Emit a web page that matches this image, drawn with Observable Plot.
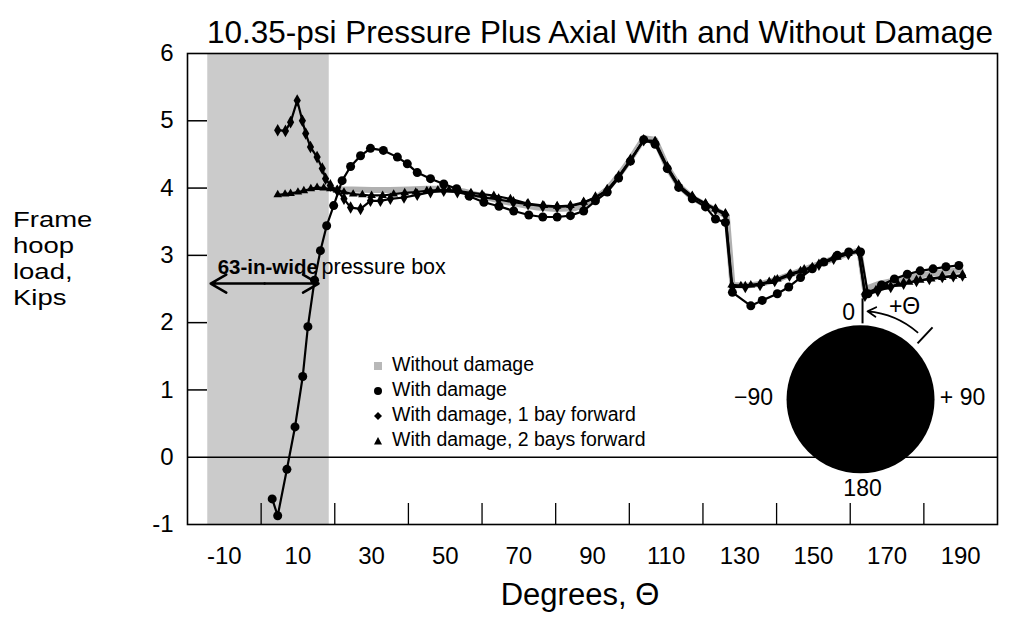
<!DOCTYPE html>
<html><head><meta charset="utf-8">
<script src="https://cdn.jsdelivr.net/npm/d3@7"></script>
<script src="https://cdn.jsdelivr.net/npm/@observablehq/plot@0.6"></script>
<style>
body{margin:0;background:#fff;font-family:"Liberation Sans",Arial,Helvetica,sans-serif;}
#wrap{position:relative;width:1022px;height:617px;overflow:hidden;background:#fff;}
.abs{position:absolute;color:#000;white-space:nowrap;}
.leg{position:absolute;left:370px;font-size:19.5px;line-height:25px;}
.sym{display:inline-block;width:16px;text-align:center;margin-right:6px;}
.yl{position:absolute;left:13px;font-size:22.5px;line-height:26px;height:26px;transform:scaleX(1.22);transform-origin:0 50%;}
</style></head><body>
<div id="wrap">
<div id="chart" class="abs" style="left:0;top:0"></div>
<div class="abs" style="left:180px;width:840px;top:12px;font-size:31.5px;line-height:40px;text-align:center;">10.35-psi Pressure Plus Axial With and Without Damage</div>
<div class="yl" style="top:207px">Frame</div>
<div class="yl" style="top:233px">hoop</div>
<div class="yl" style="top:259px">load,</div>
<div class="yl" style="top:285px">Kips</div>
<div class="abs" style="left:430px;width:300px;top:578px;font-size:31px;line-height:34px;text-align:center;">Degrees, Θ</div>
<div id="legend"></div>
</div>
<script>
// ---- data (degrees, kips) ----
const withDamage = [[3.0,-0.62],[4.5,-0.87],[7.0,-0.18],[9.2,0.45],[11.3,1.20],[12.7,1.94],[14.5,2.63],[16.1,3.07],[17.8,3.44],[19.7,3.74],[22.0,4.11],[24.3,4.32],[27.0,4.48],[29.7,4.59],[33.2,4.56],[37.0,4.46],[39.7,4.36],[42.4,4.23],[46.0,4.14],[49.6,4.06],[53.1,3.99],[56.5,3.88],[60.5,3.79],[64.6,3.73],[68.6,3.66],[72.7,3.60],[76.5,3.57],[80.4,3.57],[84.0,3.59],[87.6,3.66],[90.8,3.81],[94.0,3.94],[97.1,4.15],[100.3,4.40],[103.9,4.72],[107.0,4.65],[110.3,4.29],[113.4,4.01],[117.1,3.84],[120.7,3.72],[123.4,3.54],[126.1,3.49],[128.0,2.45],[133.0,2.25],[136.1,2.33],[140.2,2.43],[143.3,2.53],[146.5,2.67],[149.7,2.80],[152.8,2.90],[156.5,3.00],[159.6,3.05],[162.8,3.05],[164.8,2.43],[168.5,2.56],[172.0,2.65],[175.5,2.72],[179.0,2.77],[182.5,2.80],[186.0,2.83],[189.5,2.85]];
const oneBayForward = [[4.5,4.86],[6.6,4.85],[8.0,4.98],[9.8,5.30],[11.2,5.00],[12.1,4.81],[13.4,4.61],[15.2,4.46],[16.6,4.29],[17.5,4.14],[18.8,4.04],[20.7,3.96],[22.5,3.84],[24.3,3.71],[27.0,3.69],[29.7,3.81],[32.4,3.81],[35.1,3.84],[38.8,3.86],[42.4,3.90],[46.0,3.94],[49.6,3.96],[53.3,3.94],[56.9,3.90],[60.5,3.86],[64.5,3.83],[68.5,3.79],[72.5,3.76],[76.5,3.73],[80.4,3.72],[84.0,3.73],[87.6,3.78],[90.8,3.86],[94.0,3.97],[97.1,4.17],[100.3,4.42],[103.9,4.71],[107.0,4.68],[110.3,4.31],[113.4,4.04],[117.1,3.87],[120.7,3.76],[123.4,3.68],[126.1,3.60],[128.0,2.53],[131.5,2.53],[135.5,2.56],[139.5,2.62],[143.5,2.70],[147.5,2.78],[151.5,2.86],[155.5,2.95],[159.5,3.02],[162.3,3.06],[164.0,2.40],[167.5,2.47],[171.0,2.53],[174.5,2.58],[178.0,2.62],[181.5,2.65],[185.0,2.68],[188.0,2.69],[190.5,2.70]];
const twoBaysForward = [[4.5,3.90],[6.5,3.91],[8.0,3.92],[10.0,3.94],[11.6,3.96],[13.5,3.99],[15.2,4.01],[17.0,4.00],[18.8,3.99],[20.6,3.97],[22.5,3.94],[25.0,3.91],[27.5,3.90],[30.0,3.89],[33.0,3.89],[36.0,3.91],[39.0,3.93],[42.0,3.94],[45.0,3.96],[48.0,3.97],[51.0,3.97],[54.0,3.95],[57.0,3.93],[60.0,3.91],[63.2,3.89],[67.7,3.84],[72.3,3.77],[76.8,3.74],[80.4,3.73],[84.0,3.74],[87.6,3.79],[90.8,3.86],[94.0,3.97],[97.1,4.17],[100.3,4.42],[103.9,4.71],[107.0,4.70],[110.3,4.32],[113.4,4.04],[117.1,3.88],[120.7,3.77],[123.4,3.69],[126.1,3.63],[127.8,2.56],[130.3,2.55],[133.0,2.56],[135.7,2.58],[138.0,2.61],[140.2,2.65],[143.8,2.73],[146.5,2.77],[149.7,2.83],[152.8,2.89],[156.5,2.97],[159.5,3.03],[162.2,3.07],[164.0,2.45],[167.0,2.49],[170.0,2.53],[173.0,2.57],[176.0,2.60],[179.0,2.63],[182.0,2.65],[185.0,2.67],[188.0,2.69],[190.5,2.70]];
const withoutDamage = [[20,3.98],[25,3.98],[30,3.97],[35,3.97],[40,3.98],[45,3.99],[50,3.99],[55,3.95],[60,3.88],[65,3.81],[70,3.76],[75,3.71],[80,3.69],[85,3.70],[88,3.75],[91,3.85],[94,3.98],[97,4.18],[100.3,4.43],[103.9,4.74],[107,4.72],[110.3,4.31],[113.4,4.04],[117,3.86],[121,3.74],[124,3.66],[126.5,3.58],[128,2.56],[132,2.55],[136,2.58],[140,2.64],[145,2.74],[150,2.84],[155,2.94],[160,3.04],[162.5,3.07],[164,2.50],[168,2.58],[175,2.66],[180,2.71],[185,2.75],[190,2.78]];

const pressureBox = [{x1:-14.5, x2:18.5}];
const boxArrow = {from:-13.7, to:15.6, y:2.58};
const xLabelTicks = [-10,10,30,50,70,90,110,130,150,170,190];
const xMarkTicks = [0,20,40,60,80,100,120,140,160,180];
const yLabelTicks = [-1,0,1,2,3,4,5,6];
const yMarkTicks = [1,2,3,4,5];
const legendItems = ["Without damage","With damage","With damage, 1 bay forward","With damage, 2 bays forward"];

// inset sketch (center in data units, offsets in px)
const insetCenter = {x:162.8, y:0.86};
const insetLabels = [{t:"0",dx:-12,dy:-87},{t:"+Θ",dx:44,dy:-93},{t:"−90",dx:-107,dy:-2},{t:"+ 90",dx:102,dy:-2},{t:"180",dx:2,dy:89}];

// ---- layout ----
const W=1022,H=617,mL=187,mR=25,mT=53,mB=93;
const xDomain=[-20,200], yDomain=[-1,6];
const kx=(W-mL-mR)/(xDomain[1]-xDomain[0]);
const ky=(H-mT-mB)/(yDomain[1]-yDomain[0]);
const off = (dx,dy)=>({x:insetCenter.x+dx/kx, y:insetCenter.y-dy/ky});
const pts = a => a.map(([x,y])=>({x,y}));

const labelPts = insetLabels.map(d=>({...off(d.dx,d.dy), t:d.t}));
const zeroTick = [{x1:off(2,-101).x, y1:off(2,-101).y, x2:off(2,-76).x, y2:off(2,-76).y}];
const arcA = off(57,-67), arcB = off(7,-88);
const endTickA = off(57,-56), endTickB = off(72,-72);

const chart = Plot.plot({
  width:W, height:H, marginLeft:mL, marginRight:mR, marginTop:mT, marginBottom:mB,
  x:{domain:xDomain}, y:{domain:yDomain},
  style:{fontFamily:'"Liberation Sans",Arial,Helvetica,sans-serif', fontSize:"23px", color:"black", background:"transparent", overflow:"visible"},
  marks:[
    Plot.rect(pressureBox, {x1:"x1", x2:"x2", y1:yDomain[0], y2:yDomain[1], fill:"#cbcbcb"}),
    Plot.ruleY([0], {stroke:"black", strokeWidth:1.6}),
    Plot.ruleY(yMarkTicks, {x1:xDomain[0], x2:xDomain[0]+20/kx, stroke:"black", strokeWidth:1.5}),
    Plot.ruleX(xMarkTicks, {y1:yDomain[0], y2:yDomain[0]+21/ky, stroke:"black", strokeWidth:1.3}),
    Plot.line(pts(withoutDamage), {x:"x", y:"y", stroke:"#b0b0b0", strokeWidth:6}),
    Plot.line(pts(twoBaysForward), {x:"x", y:"y", stroke:"black", strokeWidth:2.2}),
    Plot.dot(pts(twoBaysForward), {x:"x", y:"y", symbol:"triangle", r:3.2, fill:"black"}),
    Plot.line(pts(oneBayForward), {x:"x", y:"y", stroke:"black", strokeWidth:2.2}),
    Plot.dot(pts(oneBayForward), {x:"x", y:"y", symbol:"diamond", r:3.8, fill:"black"}),
    Plot.line(pts(withDamage), {x:"x", y:"y", stroke:"black", strokeWidth:2.2}),
    Plot.dot(pts(withDamage), {x:"x", y:"y", r:4.5, fill:"black"}),
    Plot.frame({stroke:"black", strokeWidth:1.6}),
    // pressure box annotation
    Plot.arrow([{x1:(boxArrow.from+boxArrow.to)/2, x2:boxArrow.from},{x1:(boxArrow.from+boxArrow.to)/2, x2:boxArrow.to}], {x1:"x1", x2:"x2", y1:boxArrow.y, y2:boxArrow.y, stroke:"black", strokeWidth:2.5, headLength:11}),
    Plot.text(["63-in-wide"], {x:-11.8, y:2.82, text:d=>d, textAnchor:"start", fontWeight:"bold", fontSize:20.5}),
    Plot.text(["pressure box"], {x:16.4, y:2.82, text:d=>d, textAnchor:"start", fontSize:21.5}),
    // inset
    Plot.dot([insetCenter], {x:"x", y:"y", r:74, fill:"black"}),
    Plot.text(labelPts, {x:"x", y:"y", text:"t", fontSize:23}),
    Plot.link(zeroTick, {x1:"x1", y1:"y1", x2:"x2", y2:"y2", stroke:"black", strokeWidth:2}),
    Plot.arrow([{x1:arcA.x, y1:arcA.y, x2:arcB.x, y2:arcB.y}], {x1:"x1", y1:"y1", x2:"x2", y2:"y2", bend:-18, stroke:"black", strokeWidth:1.8, headLength:8}),
    Plot.link([{x1:endTickA.x, y1:endTickA.y, x2:endTickB.x, y2:endTickB.y}], {x1:"x1", y1:"y1", x2:"x2", y2:"y2", stroke:"black", strokeWidth:2}),
    // axes
    Plot.axisX({ticks:xLabelTicks, tickSize:0, tickPadding:22, tickFormat:d=>String(d), label:null, fontSize:24}),
    Plot.axisY({ticks:yLabelTicks, tickSize:0, tickPadding:14, tickFormat:d=>String(d), label:null, fontSize:24})
  ]
});
document.getElementById("chart").appendChild(chart);

// legend
const syms = [
  '<span style="display:inline-block;width:8px;height:8px;background:#b8b8b8;vertical-align:middle"></span>',
  '<svg width="10" height="10" style="vertical-align:middle"><circle cx="5" cy="5" r="4" fill="black"/></svg>',
  '<svg width="10" height="10" style="vertical-align:middle"><path d="M5,1L9,5L5,9L1,5Z" fill="black"/></svg>',
  '<svg width="10" height="10" style="vertical-align:middle"><path d="M5,1L9,8.5L1,8.5Z" fill="black"/></svg>'
];
const leg = document.getElementById("legend");
legendItems.forEach((t,i)=>{
  const d=document.createElement("div");
  d.className="leg";
  d.style.top=(352+i*25)+"px";
  d.innerHTML='<span class="sym">'+syms[i]+'</span>'+t;
  leg.appendChild(d);
});
</script>
</body></html>
